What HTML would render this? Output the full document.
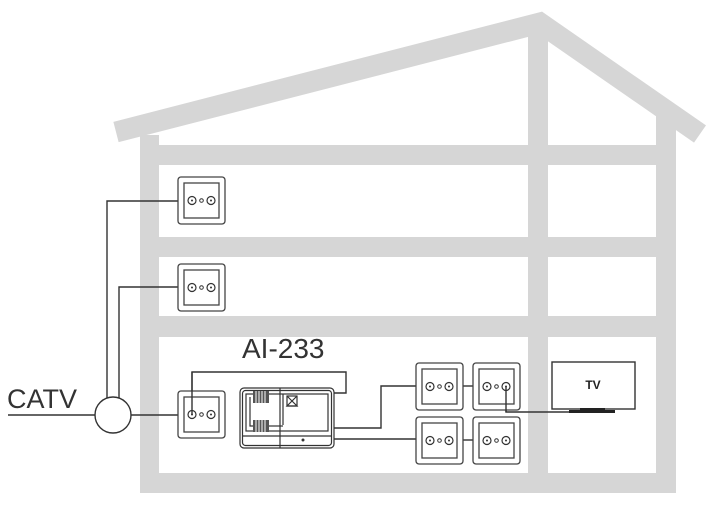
<!DOCTYPE html>
<html><head><meta charset="utf-8"><style>
html,body{margin:0;padding:0;background:#fff;}
svg{display:block;}
text{font-family:"Liberation Sans",sans-serif;}
</style></head><body>
<svg width="726" height="517" viewBox="0 0 726 517" xmlns="http://www.w3.org/2000/svg">
<defs>
<g id="out">
  <rect x="0" y="0" width="47" height="47" rx="3" fill="#fff" stroke="#444" stroke-width="1.3"/>
  <rect x="6" y="6" width="35" height="35" fill="#fff" stroke="#444" stroke-width="1.3"/>
  <circle cx="14" cy="23.5" r="4" fill="none" stroke="#333" stroke-width="1.2"/>
  <circle cx="14" cy="23.5" r="1" fill="#333"/>
  <circle cx="23.5" cy="23.5" r="1.8" fill="none" stroke="#333" stroke-width="1"/>
  <circle cx="33" cy="23.5" r="4" fill="none" stroke="#333" stroke-width="1.2"/>
  <circle cx="33" cy="23.5" r="1" fill="#333"/>
</g>
</defs>
<!-- house -->
<g fill="#d6d6d6">
  <rect x="140" y="135" width="19" height="358"/>
  <rect x="656" y="115" width="20" height="378"/>
  <rect x="528" y="25" width="20" height="468"/>
  <rect x="140" y="473" width="536" height="20"/>
  <rect x="140" y="145" width="536" height="20"/>
  <rect x="140" y="237" width="536" height="20"/>
  <rect x="140" y="316" width="536" height="21"/>
</g>
<polyline points="116,132 540,23 700,134" fill="none" stroke="#d6d6d6" stroke-width="21" stroke-linejoin="miter"/>

<!-- wires -->
<g fill="none" stroke="#333" stroke-width="1.4">
  <line x1="8" y1="415" x2="95" y2="415"/>
  <line x1="131" y1="415" x2="178" y2="415"/>
  <polyline points="107,399 107,201 178,201"/>
  <polyline points="119,400 119,287 178,287"/>
  <polyline points="192,415 192,372 346,372 346,393 334,393"/>
  <polyline points="334,428 381,428 381,386 416,386"/>
  <line x1="334" y1="439" x2="416" y2="439"/>
  <line x1="463" y1="386" x2="473" y2="386"/>
  <line x1="463" y1="440" x2="473" y2="440"/>
  <polyline points="506,386 506,412 570,412"/>
</g>
<circle cx="113" cy="415" r="18" fill="#fff" stroke="#333" stroke-width="1.4"/>

<text x="7" y="408" font-size="27" fill="#333">CATV</text>
<text x="242" y="358" font-size="28" fill="#333">AI-233</text>

<use href="#out" x="178" y="177"/>
<use href="#out" x="178" y="264"/>
<use href="#out" x="178" y="391"/>
<use href="#out" x="416" y="363"/>
<use href="#out" x="473" y="363"/>
<use href="#out" x="416" y="417"/>
<use href="#out" x="473" y="417"/>
<line x1="192" y1="415" x2="192" y2="372" stroke="#333" stroke-width="1.4"/>
<line x1="506" y1="386" x2="506" y2="412" stroke="#333" stroke-width="1.4"/>

<!-- device -->
<g fill="none" stroke="#333" stroke-width="1.2">
  <rect x="240" y="388" width="94" height="60" rx="4" fill="#fff"/>
  <rect x="242.5" y="390.5" width="89" height="55" rx="3"/>
  <rect x="246" y="394" width="82" height="37"/>
  <line x1="280" y1="388" x2="280" y2="448"/>
  <line x1="283" y1="394" x2="283" y2="425"/>
  <line x1="242.5" y1="436" x2="331.5" y2="436"/>
  <polyline points="250,397 250,426 253,426"/>
  <line x1="269" y1="426" x2="283" y2="426"/>
  <rect x="287" y="396" width="10" height="10"/>
  <polyline points="287,396 297,406 287,406 297,396"/>
</g>
<g fill="#555">
  <rect x="253" y="391" width="16" height="12"/>
  <rect x="253" y="420" width="16" height="12"/>
</g>
<g stroke="#fff" stroke-width="1">
  <line x1="256" y1="391" x2="256" y2="403"/><line x1="259" y1="391" x2="259" y2="403"/><line x1="262" y1="391" x2="262" y2="403"/><line x1="265" y1="391" x2="265" y2="403"/>
  <line x1="256" y1="420" x2="256" y2="432"/><line x1="259" y1="420" x2="259" y2="432"/><line x1="262" y1="420" x2="262" y2="432"/><line x1="265" y1="420" x2="265" y2="432"/>
</g>
<circle cx="303" cy="440" r="1.5" fill="#333"/>

<!-- TV -->
<rect x="552" y="362" width="83" height="47" fill="#fff" stroke="#333" stroke-width="1.4"/>
<text x="593" y="389" font-size="12" font-weight="bold" text-anchor="middle" fill="#222">TV</text>
<rect x="569" y="410" width="46" height="3" fill="#222"/>
<rect x="580" y="408" width="25" height="4" fill="#222"/>
</svg>
</body></html>
